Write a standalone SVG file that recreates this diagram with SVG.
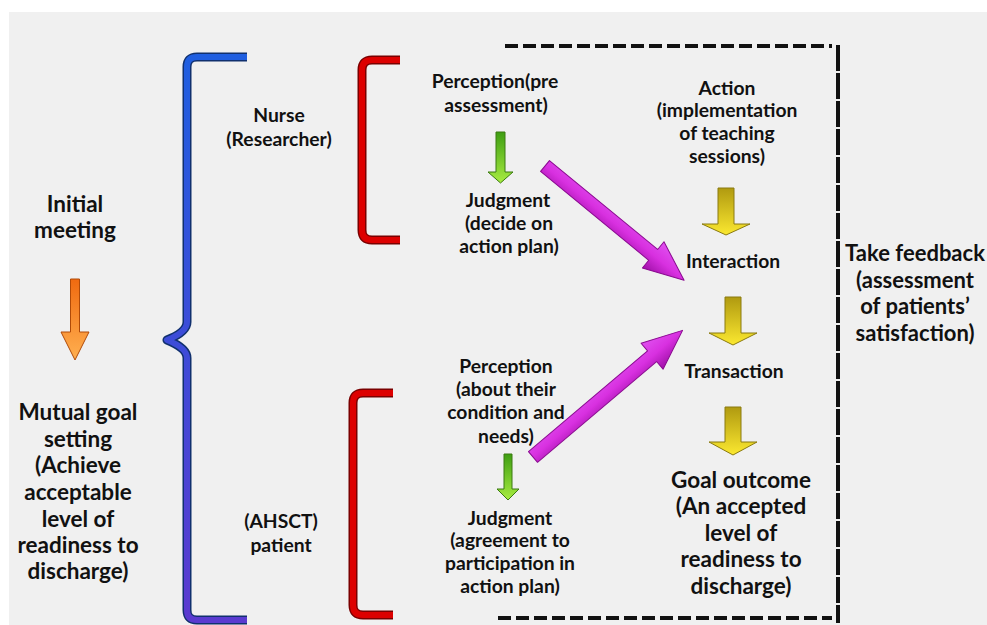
<svg xmlns="http://www.w3.org/2000/svg" width="987" height="625" viewBox="0 0 987 625">
  <style>
    .t { font-family: Lato, "Liberation Sans", sans-serif; font-weight: bold; fill: #111; text-anchor: middle; }
    .big { font-size: 22.5px; }
    .fb { font-size: 22px; }
    .mid { font-size: 19.3px; }
    .outline { fill: none; stroke-linecap: butt; stroke-linejoin: round; }
    .dash { fill: none; stroke: #111; stroke-width: 4; }
  </style>
  <defs>
    <linearGradient id="gBlue" x1="0" y1="0" x2="0" y2="1">
      <stop offset="0" stop-color="#1f5ee0"/>
      <stop offset="1" stop-color="#5a3ad0"/>
    </linearGradient>
    <linearGradient id="gOrange" x1="0" y1="0" x2="0" y2="1">
      <stop offset="0" stop-color="#f06a10"/>
      <stop offset="1" stop-color="#ffb050"/>
    </linearGradient>
    <linearGradient id="gGreen" x1="0" y1="0" x2="0" y2="1">
      <stop offset="0" stop-color="#3e9e12"/>
      <stop offset="1" stop-color="#a8ec40"/>
    </linearGradient>
    <linearGradient id="gYellow" x1="0" y1="0" x2="0" y2="1">
      <stop offset="0" stop-color="#b09a10"/>
      <stop offset="1" stop-color="#fbe830"/>
    </linearGradient>
    <linearGradient id="gMagenta" x1="0" y1="0" x2="0" y2="1">
      <stop offset="0" stop-color="#e050f0"/>
      <stop offset="0.5" stop-color="#d830e0"/>
      <stop offset="1" stop-color="#a010a8"/>
    </linearGradient>
  </defs>

  <rect x="0" y="0" width="987" height="625" fill="#ffffff"/>
  <rect x="9" y="12" width="978" height="613" fill="#f0f0f0"/>

  <!-- brackets -->
  <g id="brace-blue">
    <path class="outline" stroke="#10306e" stroke-width="9" d="M247,57 L197,57 Q187,57 187,67 L187,322 Q187,332 167,340 Q187,348 187,358 L187,610 Q187,620 197,620 L247,620"/>
    <path class="outline" stroke="url(#gBlue)" stroke-width="6" d="M247,57 L197,57 Q187,57 187,67 L187,322 Q187,332 167,340 Q187,348 187,358 L187,610 Q187,620 197,620 L247,620"/>
  </g>
  <g id="bracket-nurse">
    <path class="outline" stroke="#7a0000" stroke-width="9" d="M400,60 L372,60 Q362,60 362,70 L362,230 Q362,240 372,240 L400,240"/>
    <path class="outline" stroke="#dd0000" stroke-width="6" d="M400,60 L372,60 Q362,60 362,70 L362,230 Q362,240 372,240 L400,240"/>
  </g>
  <g id="bracket-patient">
    <path class="outline" stroke="#7a0000" stroke-width="9" d="M393,393 L363,393 Q353,393 353,403 L353,605 Q353,615 363,615 L393,615"/>
    <path class="outline" stroke="#dd0000" stroke-width="6" d="M393,393 L363,393 Q353,393 353,403 L353,605 Q353,615 363,615 L393,615"/>
  </g>

  <!-- dashed feedback frame -->
  <g id="feedback-frame">
    <line class="dash" x1="505" y1="46" x2="832" y2="46" stroke-dasharray="13 5"/>
    <line class="dash" x1="498" y1="618" x2="832" y2="618" stroke-dasharray="13 5"/>
    <line class="dash" x1="838" y1="45" x2="838" y2="623" stroke-dasharray="26 2"/>
  </g>

  <!-- connectors -->
  <g id="connectors" stroke-width="1" stroke-linejoin="round">
    <polygon fill="url(#gOrange)" stroke="#b04a08" points="70.5,279 79.5,279 79.5,332 89,332 75,360 61,332 70.5,332"/>
    <polygon fill="url(#gGreen)" stroke="#3a7a10" points="496,132 505,132 505,172 513,172 500.5,183 488,172 496,172"/>
    <polygon fill="url(#gGreen)" stroke="#3a7a10" points="504,454 512,454 512,489 519,489 508,500 497,489 504,489"/>
    <polygon fill="url(#gYellow)" stroke="#8a7a10" points="718,188 734,188 734,224 750,224 726,235 702,224 718,224"/>
    <polygon fill="url(#gYellow)" stroke="#8a7a10" points="725,297 741,297 741,333 757,333 733,345 709,333 725,333"/>
    <polygon fill="url(#gYellow)" stroke="#8a7a10" points="725,407 741,407 741,442 757,442 733,455 709,442 725,442"/>
    <path fill="url(#gMagenta)" stroke="#8a0a90" transform="translate(545,166) rotate(39.4)" d="M0,-7 L140,-7 L140,-17 L180,0 L140,17 L140,7 L0,7 Z"/>
    <path fill="url(#gMagenta)" stroke="#8a0a90" transform="translate(533,457) rotate(-40.25)" d="M0,-7 L156,-7 L156,-17 L196,0 L156,17 L156,7 L0,7 Z"/>
  </g>

  <!-- text nodes -->
  <g id="initial-meeting">
    <text class="t big" x="75" y="212">Initial</text>
    <text class="t big" x="75" y="238">meeting</text>
  </g>
  <g id="mutual-goal">
    <text class="t big" x="78" y="420">Mutual goal</text>
    <text class="t big" x="78" y="447">setting</text>
    <text class="t big" x="78" y="473">(Achieve</text>
    <text class="t big" x="78" y="500">acceptable</text>
    <text class="t big" x="78" y="527">level of</text>
    <text class="t big" x="78" y="553">readiness to</text>
    <text class="t big" x="78" y="579">discharge)</text>
  </g>
  <g id="nurse">
    <text class="t mid" x="279" y="122">Nurse</text>
    <text class="t mid" x="279" y="146">(Researcher)</text>
  </g>
  <g id="patient">
    <text class="t mid" x="281" y="528">(AHSCT)</text>
    <text class="t mid" x="281" y="552">patient</text>
  </g>
  <g id="nurse-perception">
    <text class="t mid" x="495" y="88">Perception(pre</text>
    <text class="t mid" x="496" y="112">assessment)</text>
  </g>
  <g id="nurse-judgment">
    <text class="t mid" x="508" y="207">Judgment</text>
    <text class="t mid" x="509" y="230">(decide on</text>
    <text class="t mid" x="509" y="253">action plan)</text>
  </g>
  <g id="action">
    <text class="t mid" x="727" y="95">Action</text>
    <text class="t mid" x="727" y="117">(implementation</text>
    <text class="t mid" x="727" y="140">of teaching</text>
    <text class="t mid" x="727" y="163">sessions)</text>
  </g>
  <g id="interaction">
    <text class="t mid" x="733" y="268">Interaction</text>
  </g>
  <g id="transaction">
    <text class="t mid" x="734" y="378">Transaction</text>
  </g>
  <g id="patient-perception">
    <text class="t mid" x="506" y="373">Perception</text>
    <text class="t mid" x="506" y="396">(about their</text>
    <text class="t mid" x="506" y="419">condition and</text>
    <text class="t mid" x="506" y="443">needs)</text>
  </g>
  <g id="patient-judgment">
    <text class="t mid" x="510" y="525">Judgment</text>
    <text class="t mid" x="510" y="547">(agreement to</text>
    <text class="t mid" x="510" y="570">participation in</text>
    <text class="t mid" x="510" y="593">action plan)</text>
  </g>
  <g id="goal-outcome">
    <text class="t big" x="741" y="488">Goal outcome</text>
    <text class="t big" x="741" y="514">(An accepted</text>
    <text class="t big" x="741" y="541">level of</text>
    <text class="t big" x="741" y="567">readiness to</text>
    <text class="t big" x="741" y="594">discharge)</text>
  </g>
  <g id="take-feedback">
    <text class="t fb" x="915" y="261">Take feedback</text>
    <text class="t fb" x="915" y="288">(assessment</text>
    <text class="t fb" x="915" y="314">of patients’</text>
    <text class="t fb" x="915" y="341">satisfaction)</text>
  </g>
</svg>
